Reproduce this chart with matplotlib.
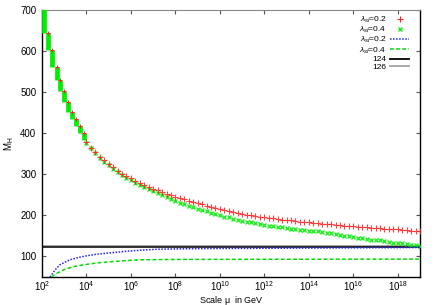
import matplotlib
matplotlib.use("Agg")
import matplotlib.pyplot as plt
from matplotlib.lines import Line2D
import numpy as np

plt.rcParams['font.family'] = ['Liberation Sans', 'DejaVu Sans']
plt.rcParams['mathtext.fontset'] = 'custom'
plt.rcParams['mathtext.rm'] = 'Liberation Sans'
plt.rcParams['mathtext.it'] = 'Liberation Sans:italic'

# ---- data (log10 of scale mu in GeV) ----
step_log_mu = [2.09, 2.27, 2.47, 2.66, 2.81, 2.99, 3.17, 3.36, 3.53, 3.71, 3.89]
step_top = [730, 645, 604, 562, 530, 502, 477, 453, 434, 418, 401]
step_bot = [645, 604, 562, 530, 502, 477, 453, 434, 418, 401, 384]

log_mu = [4.0, 4.2, 4.4, 4.6, 4.8, 5.0, 5.2, 5.4, 5.6, 5.8,
          6.0, 6.2, 6.4, 6.6, 6.8, 7.0, 7.2, 7.4, 7.6, 7.8,
          8.0, 8.2, 8.4, 8.6, 8.8, 9.0, 9.2, 9.4, 9.6, 9.8,
          10.0, 10.2, 10.4, 10.6, 10.8, 11.0, 11.2, 11.4, 11.6, 11.8,
          12.0, 12.2, 12.4, 12.6, 12.8, 13.0, 13.2, 13.4, 13.6, 13.8,
          14.0, 14.2, 14.4, 14.6, 14.8, 15.0, 15.2, 15.4, 15.6, 15.8,
          16.0, 16.2, 16.4, 16.6, 16.8, 17.0, 17.2, 17.4, 17.6, 17.8,
          18.0, 18.2, 18.4, 18.6, 18.8, 19.0]
mh_pts_02 = [378, 365, 354, 343, 334, 325, 317, 309, 302, 296,
             290, 284, 279, 274, 269, 265, 261, 257, 253, 249,
             246, 243, 240, 236, 233, 230, 227, 224, 221, 218,
             215, 212, 210, 208, 206, 204, 202, 201, 199, 197,
             196, 194, 193, 191, 190, 189, 188, 186, 185, 184,
             183, 182, 181, 180, 179, 178, 177, 176, 175, 175,
             174, 173, 172, 171, 170, 170, 169, 168, 167, 166,
             166, 165, 164, 163, 162, 161]
mh_pts_04 = [376, 363, 351, 341, 331, 322, 314, 306, 299, 292,
             286, 280, 275, 269, 264, 259, 254, 250, 245, 240,
             235, 231, 227, 223, 220, 216, 213, 210, 206, 203,
             200, 197, 195, 192, 190, 187, 185, 183, 181, 179,
             177, 175, 174, 172, 171, 169, 168, 167, 165, 164,
             163, 162, 161, 159, 157, 156, 154, 153, 151, 149,
             148, 146, 145, 143, 141, 140, 139, 137, 136, 134,
             133, 132, 131, 129, 128, 126]

line_log_mu_02 = [2.36, 2.6, 2.81, 3.0, 3.26, 3.6, 3.93, 4.4, 4.92, 5.5,
                  5.96, 6.5, 7.17, 8.0, 10.0, 12.0, 14.0, 16.0, 18.0, 19.0]
line_mh_02 = [50, 68, 80, 85, 92, 97, 101, 105, 108, 111,
              113.5, 115.5, 117.6, 118.5, 119.5, 120, 120.5, 121, 121.5, 121.8]
line_log_mu_04 = [2.43, 2.6, 2.81, 3.0, 3.39, 3.8, 4.16, 4.6, 5.19, 5.8,
                  6.4, 7.0, 8.0, 10.0, 12.0, 14.0, 16.0, 19.0]
line_mh_04 = [50, 57, 63, 68, 75, 79, 82, 85, 87.6, 90,
              91.7, 92.3, 92.8, 93, 93.2, 93.3, 93.4, 93.5]

ref_masses = [124, 126]
xtick_exps = [2, 4, 6, 8, 10, 12, 14, 16, 18]
yticks = [100, 200, 300, 400, 500, 600, 700]

RED = '#ff2020'
GREEN = '#00ee00'
BLUE = '#2222ff'
GREEN_L = '#00dd00'

fig = plt.figure(figsize=(4.36, 3.05), dpi=100)
ax = fig.add_axes([0.0963, 0.0918, 0.867, 0.875])

# stair region (dense overlapping points)
ax.vlines(10.0 ** np.array(step_log_mu), step_bot, step_top, color=GREEN, lw=3.4, zorder=3)
ax.plot(10.0 ** np.array(step_log_mu[1:]), step_top[1:], '+', color=RED, ms=2.5, mew=0.7, zorder=4)

mu = 10.0 ** np.array(log_mu)
ax.plot(mu, mh_pts_04, 'x', color=GREEN, ms=3.4, mew=1.0, alpha=0.85, zorder=3)
ax.plot(mu, mh_pts_02, '+', color=RED, ms=3.8, mew=0.8, alpha=0.85, zorder=4)

ax.plot(10.0 ** np.array(line_log_mu_02), line_mh_02, color=BLUE, lw=1.1,
        linestyle=(0, (1.0, 1.0)), zorder=3)
ax.plot(10.0 ** np.array(line_log_mu_04), line_mh_04, color=GREEN_L, lw=1.1,
        linestyle=(0, (2.5, 1.5)), zorder=3)

ax.axhline(ref_masses[1], color='#aaaaaa', lw=1.4, zorder=2)
ax.axhline(ref_masses[0], color='black', lw=1.1, zorder=2)

ax.set_xscale('log')
ax.set_xlim(1e2, 1e19)
ax.set_ylim(50, 700)
ax.set_xticks([10.0 ** e for e in xtick_exps])
ax.set_xticklabels([r'$10^{%d}$' % e for e in xtick_exps])
ax.xaxis.set_minor_locator(matplotlib.ticker.NullLocator())
ax.set_yticks(yticks)
ax.tick_params(direction='in', length=3, width=0.8, labelsize=7, top=True, right=True,
               color='#555555')
ax.tick_params(axis='x', pad=1.5)
ax.tick_params(axis='y', pad=4)
for s in ['left', 'bottom', 'right']:
    ax.spines[s].set_color('black')
    ax.spines[s].set_linewidth(1.0)
ax.spines['top'].set_color('#888888')

ax.set_xlabel(r'Scale $\mathregular{\mu}$  in GeV', fontsize=6.5)
ax.xaxis.set_label_coords(0.5, -0.062)
ax.set_ylabel(r'$\mathregular{M_H}$', fontsize=7, labelpad=3)

handles = [
    Line2D([], [], ls='none', marker='+', color=RED, ms=3.8, mew=0.8),
    Line2D([], [], ls='none', marker='x', color=GREEN, ms=3.2, mew=0.9),
    Line2D([], [], color=BLUE, lw=1.1, linestyle=(0, (1.0, 1.0))),
    Line2D([], [], color=GREEN_L, lw=1.1, linestyle=(0, (2.5, 1.5))),
    Line2D([], [], color='black', lw=1.3),
    Line2D([], [], color='#aaaaaa', lw=1.4),
]
labels = [r'$\lambda_{sl}$=0.2', r'$\lambda_{sl}$=0.4', r'$\lambda_{sl}$=0.2',
          r'$\lambda_{sl}$=0.4', '124', '126']
ax.legend(handles, labels, loc='upper right', frameon=False, markerfirst=False,
          fontsize=6, handlelength=2.3, handletextpad=0.4, labelspacing=0.0,
          borderaxespad=0.0, bbox_to_anchor=(0.98, 0.995))

fig.savefig('out.png', dpi=100)
